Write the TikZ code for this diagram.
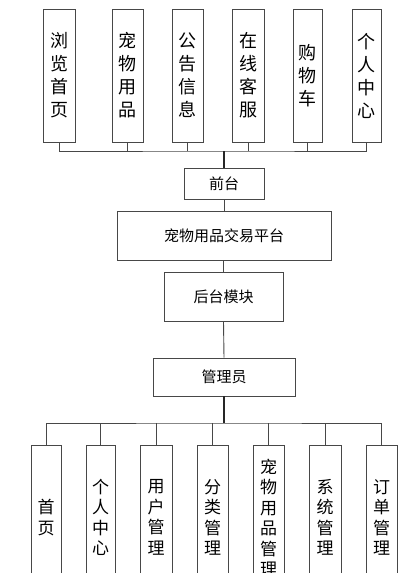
\documentclass[tikz,border=0pt]{standalone}
\usepackage{fontspec}
\setmainfont{Noto Sans CJK SC}
\usetikzlibrary{shadows}
\definecolor{ln}{HTML}{474747}
\tikzset{
  box/.style={draw=ln, line width=0.9pt, fill=white, inner sep=0pt, align=center,
     drop shadow={shadow xshift=1.2pt, shadow yshift=-1.2pt, fill=blue!30!white, opacity=0.25}},
  topbox/.style={box, minimum height=133, font=\fontsize{18}{23}\selectfont},
  midbox/.style={box, font=\fontsize{15}{18}\selectfont},
  botbox/.style={box, minimum height=145, font=\fontsize{17}{20.5}\selectfont},
  conn/.style={draw=ln, line width=0.9pt},
  trunk/.style={draw=black!85, line width=1.4pt}
}
\begin{document}
\begin{tikzpicture}[x=1pt,y=-1pt]
\useasboundingbox (0,0) rectangle (420,573);
\begin{scope}
\clip (0,0) rectangle (420,573);
% top row
\node[topbox, minimum width=32] (t1) at (59,75.5) {浏\\览\\首\\页};
\node[topbox, minimum width=31] (t2) at (127.5,75.5) {宠\\物\\用\\品};
\node[topbox, minimum width=31] (t3) at (187.5,75.5) {公\\告\\信\\息};
\node[topbox, minimum width=32] (t4) at (248,75.5) {在\\线\\客\\服};
\node[topbox, minimum width=29] (t5) at (307.5,75.5) {购\\物\\车};
\node[topbox, minimum width=29] (t6) at (366.5,75.5) {个\\人\\中\\心};
% middle
\node[midbox, minimum width=80, minimum height=31] (qt) at (224,183.5) {前台};
\node[midbox, minimum width=214, minimum height=49] (pt) at (224,235.5) {宠物用品交易平台};
\node[midbox, minimum width=119, minimum height=49] (ht) at (223.5,296.5) {后台模块};
\node[midbox, minimum width=142, minimum height=38] (gl) at (224,377) {管理员};
% bottom row
\node[botbox, minimum width=30] (b1) at (46,517.5) {首\\页};
\node[botbox, minimum width=29] (b2) at (100.5,517.5) {个\\人\\中\\心};
\node[botbox, minimum width=32] (b3) at (156,517.5) {用\\户\\管\\理};
\node[botbox, minimum width=31] (b4) at (212.5,517.5) {分\\类\\管\\理};
\node[botbox, minimum width=31] (b5) at (268.5,517.5) {宠\\物\\用\\品\\管\\理};
\node[botbox, minimum width=32] (b6) at (325,517.5) {系\\统\\管\\理};
\node[botbox, minimum width=31] (b7) at (381.5,517.5) {订\\单\\管\\理};
% top connectors
\coordinate (tbus) at (224,151);
\draw[conn] (t1.south) |- (tbus) -| (t6.south);
\foreach \n in {t2,t3,t4,t5} \draw[conn] (\n.south) -- (\n.south |- tbus);
\draw[trunk] (tbus) -- (qt.north);
% middle connectors
\draw[conn] (qt.south) -- (pt.north);
\draw[conn] (pt.south) -- (ht.south |- pt.south) -- (ht.north);
\draw[conn] (ht.south) -- (gl.north);
% bottom connectors
\coordinate (bbus) at (224,423);
\draw[trunk] (gl.south) -- (bbus);
\draw[conn] (b1.north) |- (bbus) -| (b7.north);
\foreach \n in {b2,b3,b4,b5,b6} \draw[conn] (\n.north) -- (\n.north |- bbus);
\end{scope}
\end{tikzpicture}
\end{document}
